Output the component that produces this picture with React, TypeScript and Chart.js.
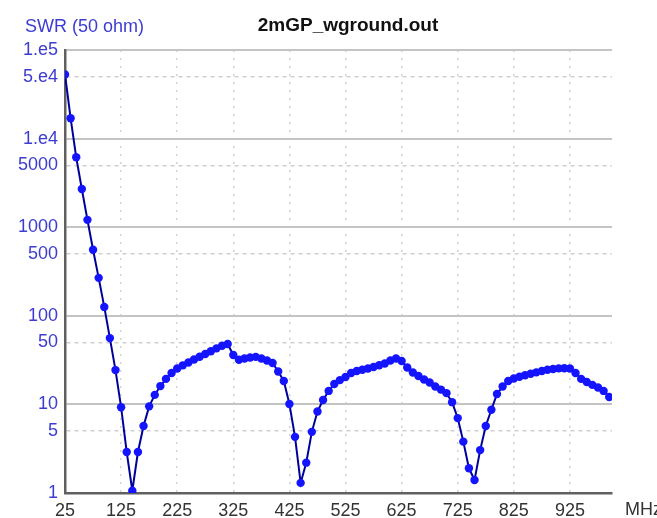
import React, { useEffect, useRef } from "react";
import { Chart, registerables } from "chart.js";

Chart.register(...registerables);

const chartTitle = "2mGP_wground.out";
const yAxisTitle = "SWR (50 ohm)";
const xAxisTitle = "MHz";

const freqMHz = [
  25, 35, 45, 55, 65, 75, 85, 95, 105, 115,
  125, 135, 145, 155, 165, 175, 185, 195, 205, 215,
  225, 235, 245, 255, 265, 275, 285, 295, 305, 315,
  325, 335, 345, 355, 365, 375, 385, 395, 405, 415,
  425, 435, 445, 455, 465, 475, 485, 495, 505, 515,
  525, 535, 545, 555, 565, 575, 585, 595, 605, 615,
  625, 635, 645, 655, 665, 675, 685, 695, 705, 715,
  725, 735, 745, 755, 765, 775, 785, 795, 805, 815,
  825, 835, 845, 855, 865, 875, 885, 895, 905, 915,
  925, 935, 945, 955, 965, 975, 985, 995,
];

const swrValues = [
  53000, 17000, 6150, 2700, 1210, 556, 268, 126, 56, 24.4,
  9.3, 2.9, 1.06, 2.9, 5.7, 9.5, 12.8, 16.1, 19.4, 22.6,
  25.4, 27.6, 29.7, 32.1, 34.5, 37.0, 39.8, 42.9, 46.0, 48.0,
  36.1, 31.9, 33.0, 33.8, 34.4, 33.0, 31.3, 29.3, 23.5, 18.4,
  10.1, 4.3, 1.3, 2.2, 4.9, 8.3, 11.2, 14.2, 17.0, 18.8,
  20.4, 22.6, 23.8, 24.6, 25.4, 26.4, 27.7, 29.0, 31.3, 33.0,
  30.9, 26.1, 22.9, 20.9, 19.1, 17.7, 15.9, 14.7, 13.4, 10.6,
  7.0, 3.8, 1.9, 1.4, 3.05, 5.7, 8.7, 13.1, 15.9, 18.4,
  19.6, 20.5, 21.3, 22.2, 23.0, 23.8, 24.6, 25.1, 25.5, 25.6,
  25.4, 22.6, 19.4, 17.9, 16.6, 15.5, 14.2, 12.1,
];

const xTickValues = [25, 125, 225, 325, 425, 525, 625, 725, 825, 925];
const yTickValues = [1, 5, 10, 50, 100, 500, 1000, 5000, 10000, 50000, 100000];
const yTickLabels = ["1", "5", "10", "50", "100", "500", "1000", "5000", "1.e4", "5.e4", "1.e5"];

const FONT = '"Liberation Sans", Arial, sans-serif';

const isFiveStep = (v: number) => {
  const l = Math.log10(v);
  return Math.abs(l - Math.round(l)) > 0.1;
};

const textPlugin = {
  id: "extraTexts",
  afterDraw(chart: any) {
    const { ctx, chartArea } = chart;
    ctx.save();
    ctx.textBaseline = "middle";
    ctx.textAlign = "left";
    ctx.font = `18px ${FONT}`;
    ctx.fillStyle = "#3c3cd2";
    ctx.fillText(yAxisTitle, chartArea.left - 40, chartArea.top - 23);
    ctx.fillStyle = "#333333";
    ctx.fillText(xAxisTitle, chartArea.right + 13, chartArea.bottom + 17);
    ctx.textAlign = "center";
    ctx.font = `bold 19px ${FONT}`;
    ctx.fillStyle = "#111111";
    ctx.fillText(chartTitle, chartArea.left + 283, chartArea.top - 24);
    ctx.restore();
  },
};

export default function App() {
  const canvasRef = useRef<HTMLCanvasElement | null>(null);

  useEffect(() => {
    if (!canvasRef.current) return;
    const points = freqMHz.map((f, i) => ({ x: f, y: swrValues[i] }));
    const chart = new Chart(canvasRef.current, {
      type: "line",
      data: {
        datasets: [
          {
            data: points,
            borderColor: "#00009a",
            borderWidth: 2,
            pointRadius: 4.2,
            pointBackgroundColor: "#1414ff",
            pointBorderColor: "#1414ff",
            pointBorderWidth: 0,
            tension: 0,
            fill: false,
          },
        ],
      },
      options: {
        responsive: false,
        animation: false,
        layout: { padding: { top: 50, right: 45, left: 0, bottom: 0 } },
        plugins: {
          legend: { display: false },
          title: { display: false },
          tooltip: { enabled: false },
        },
        scales: {
          x: {
            type: "linear",
            min: 25,
            max: 1000,
            afterBuildTicks: (scale: any) => {
              scale.ticks = xTickValues.map((v) => ({ value: v }));
            },
            afterFit: (scale: any) => {
              scale.height = 25;
            },
            ticks: {
              autoSkip: false,
              maxRotation: 0,
              padding: 7,
              color: "#333333",
              font: { family: FONT, size: 18 },
              callback: (v: any) => String(v),
            },
            grid: {
              color: "#d2d2d2",
              lineWidth: 1.5,
              drawTicks: false,
            },
            border: {
              display: true,
              color: "#606060",
              width: 2.5,
              dash: [2, 6],
            },
          },
          y: {
            type: "logarithmic",
            min: 1,
            max: 100000,
            afterBuildTicks: (scale: any) => {
              scale.ticks = yTickValues.map((v) => ({ value: v }));
            },
            afterFit: (scale: any) => {
              scale.width = 65;
            },
            ticks: {
              autoSkip: false,
              padding: 7,
              color: "#3c3cd2",
              font: { family: FONT, size: 18 },
              callback: (v: any) => {
                const idx = yTickValues.indexOf(Number(v));
                return idx >= 0 ? yTickLabels[idx] : "";
              },
            },
            grid: {
              drawTicks: false,
              color: (ctx: any) =>
                ctx.tick && isFiveStep(ctx.tick.value) ? "#cfcfcf" : "#c4c4c4",
              lineWidth: (ctx: any) =>
                ctx.tick && isFiveStep(ctx.tick.value) ? 1.5 : 2,
            },
            border: {
              display: true,
              color: "#606060",
              width: 2.5,
              dash: (ctx: any) =>
                ctx && ctx.tick && isFiveStep(ctx.tick.value) ? [4, 4] : [],
            },
          },
        },
      },
      plugins: [textPlugin],
    } as any);
    return () => chart.destroy();
  }, []);

  return (
    <div style={{ position: "absolute", left: 0, top: 0, width: 657, height: 518, overflow: "hidden", background: "#ffffff" }}>
      <canvas ref={canvasRef} width={657} height={518} />
    </div>
  );
}
